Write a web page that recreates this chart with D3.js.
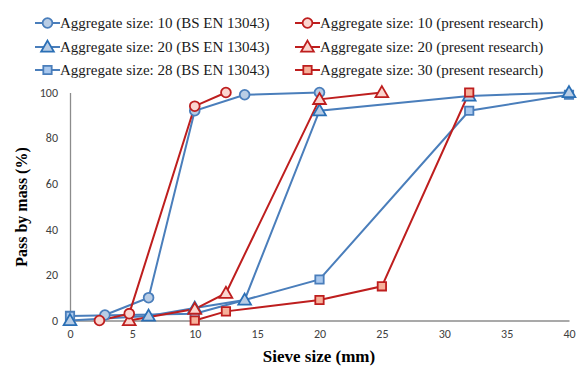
<!DOCTYPE html>
<html><head><meta charset="utf-8">
<script src="https://cdn.jsdelivr.net/npm/d3@7"></script>
<style>body{margin:0;background:#fff}svg{display:block}</style>
</head><body>
<svg id="c" width="581" height="369"></svg>
<script>
const seriesNames = [
  "Aggregate size: 10 (BS EN 13043)",
  "Aggregate size: 20 (BS EN 13043)",
  "Aggregate size: 28 (BS EN 13043)",
  "Aggregate size: 10 (present research)",
  "Aggregate size: 20 (present research)",
  "Aggregate size: 30 (present research)"
];
const bs10Sieve = [2.8, 6.3, 10, 14, 20];
const bs10Pass  = [2.4, 10, 92, 99, 100];
const bs20Sieve = [0, 6.3, 10, 14, 20, 32, 40];
const bs20Pass  = [0, 2, 5.5, 9, 92, 98.5, 100];
const bs28Sieve = [0, 10, 20, 32, 40];
const bs28Pass  = [2, 3, 18, 92, 99];
const pr10Sieve = [2.36, 4.75, 10, 12.5];
const pr10Pass  = [0, 3, 94, 100];
const pr20Sieve = [4.75, 10, 12.5, 20, 25];
const pr20Pass  = [0, 5, 12, 97, 100];
const pr30Sieve = [10, 12.5, 20, 25, 32];
const pr30Pass  = [0, 4, 9, 15, 100];
const xTicks = [0, 5, 10, 15, 20, 25, 30, 35, 40];
const yTicks = [0, 20, 40, 60, 80, 100];

const blue = "#4a7ebb", red = "#be1e1e";
const series = [
  {name: seriesNames[0], xs: bs10Sieve, ys: bs10Pass, shape: "circle", stroke: blue, fill: "#b9cde5", mstroke: blue},
  {name: seriesNames[1], xs: bs20Sieve, ys: bs20Pass, shape: "triangle", stroke: blue, fill: "#b9cde5", mstroke: "#2a6fb5"},
  {name: seriesNames[2], xs: bs28Sieve, ys: bs28Pass, shape: "square", stroke: blue, fill: "#a9c8ee", mstroke: blue},
  {name: seriesNames[3], xs: pr10Sieve, ys: pr10Pass, shape: "circle", stroke: red, fill: "#fbd5cf", mstroke: red},
  {name: seriesNames[4], xs: pr20Sieve, ys: pr20Pass, shape: "triangle", stroke: red, fill: "#fbd5cf", mstroke: red},
  {name: seriesNames[5], xs: pr30Sieve, ys: pr30Pass, shape: "square", stroke: red, fill: "#f6b09a", mstroke: red}
];
const drawOrder = [2, 1, 0, 5, 4, 3];

const svg = d3.select("#c");
const x = d3.scaleLinear().domain([0, 40]).range([70, 569]);
const y = d3.scaleLinear().domain([0, 100]).range([320.5, 92.5]);

// axes
const xAxis = svg.append("g").attr("transform", `translate(0,${y(0)})`)
  .call(d3.axisBottom(x).tickValues(xTicks).tickSize(0).tickPadding(9));
const yAxis = svg.append("g").attr("transform", `translate(${x(0)},0)`)
  .call(d3.axisLeft(y).tickValues(yTicks).tickSize(0).tickPadding(12));
[xAxis, yAxis].forEach(a => {
  a.select(".domain").attr("stroke", "#8c8c8c").attr("stroke-width", 1.3);
  a.selectAll("text").attr("fill", "#404040").style("font-family", "Carlito, 'Liberation Sans', Arial, sans-serif").style("font-size", "12px");
});

const sym = {circle: d3.symbolCircle, triangle: d3.symbolTriangle, square: d3.symbolSquare};
const symSize = {circle: 75, triangle: 70, square: 70};
function drawMarker(g, s, cx, cy) {
  g.append("path").attr("d", d3.symbol().type(sym[s.shape]).size(symSize[s.shape])())
    .attr("transform", `translate(${cx},${cy + (s.shape === "triangle" ? 1 : 0)})`)
    .attr("fill", s.fill).attr("stroke", s.mstroke).attr("stroke-width", 1.8);
}

const line = d3.line().x(d => x(d[0])).y(d => y(d[1]));
const plot = svg.append("g");
drawOrder.forEach(i => {
  const s = series[i];
  const pts = s.xs.map((v, k) => [v, s.ys[k]]);
  plot.append("path").datum(pts).attr("d", line).attr("fill", "none")
    .attr("stroke", s.stroke).attr("stroke-width", 2);
});
drawOrder.forEach(i => {
  const s = series[i];
  s.xs.forEach((v, k) => drawMarker(plot, s, x(v), y(s.ys[k])));
});

// axis titles
svg.append("text").attr("x", 319).attr("y", 362).attr("text-anchor", "middle")
  .style("font-family", "'Liberation Serif', 'Times New Roman', serif").style("font-weight", "bold").style("font-size", "17px")
  .text("Sieve size (mm)");
svg.append("text").attr("transform", "translate(27,207) rotate(-90)").attr("text-anchor", "middle")
  .style("font-family", "'Liberation Serif', 'Times New Roman', serif").style("font-weight", "bold").style("font-size", "16px")
  .text("Pass by mass (%)");

// legend
const legX = [35, 295], legY = [23, 47, 70];
series.forEach((s, i) => {
  const col = i < 3 ? 0 : 1, row = i % 3;
  const g = svg.append("g").attr("transform", `translate(${legX[col]},${legY[row]})`);
  g.append("line").attr("x1", 0).attr("x2", 25).attr("y1", 0).attr("y2", 0)
    .attr("stroke", s.stroke).attr("stroke-width", 2);
  drawMarker(g, s, 12.5, 0);
  g.append("text").attr("x", 25).attr("y", 5)
    .style("font-family", "'Liberation Serif', 'Times New Roman', serif").style("font-size", "15px")
    .attr("fill", "#1a1a1a").text(s.name);
});
</script>
</body></html>
